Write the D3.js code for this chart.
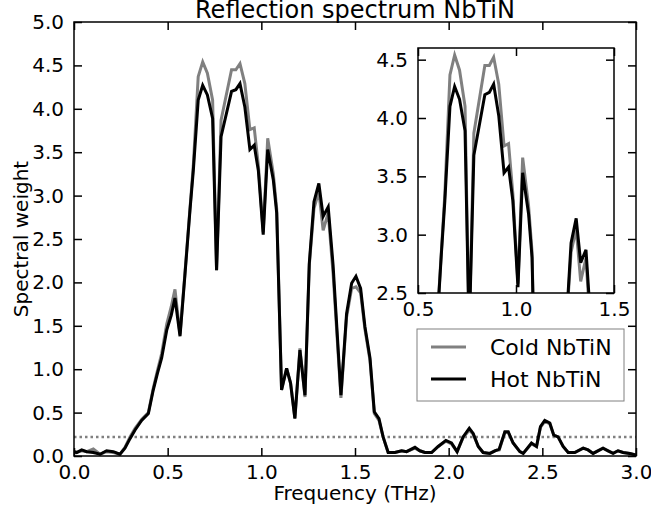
<!DOCTYPE html>
<html>
<head>
<meta charset="utf-8">
<script src="https://d3js.org/d3.v7.min.js"></script>
<style>
  body { margin: 0; background: #fff; }
  text { font-family: "DejaVu Sans", sans-serif; fill: #000; }
</style>
</head>
<body>
<div class="chart"></div>
<script>
// values
var freq = [0.000, 0.014, 0.041, 0.068, 0.103, 0.139, 0.174, 0.210, 0.245, 0.272,
  0.299, 0.326, 0.361, 0.397, 0.423, 0.445, 0.468, 0.495, 0.519, 0.539,
  0.566, 0.592, 0.619, 0.637, 0.663, 0.687, 0.712, 0.740, 0.761, 0.785,
  0.841, 0.864, 0.886, 0.912, 0.939, 0.962, 0.984, 1.010, 1.034, 1.064,
  1.082, 1.108, 1.135, 1.156, 1.179, 1.206, 1.233, 1.256, 1.281, 1.307,
  1.330, 1.357, 1.383, 1.425, 1.455, 1.482, 1.505, 1.530, 1.553, 1.580,
  1.603, 1.628, 1.650, 1.677, 1.713, 1.749, 1.775, 1.820, 1.846, 1.873,
  1.909, 1.944, 1.985, 2.015, 2.045, 2.077, 2.110, 2.131, 2.158, 2.184,
  2.220, 2.247, 2.270, 2.300, 2.318, 2.344, 2.380, 2.398, 2.442, 2.469,
  2.490, 2.513, 2.540, 2.561, 2.584, 2.611, 2.638, 2.673, 2.718, 2.744,
  2.771, 2.824, 2.851, 2.878, 2.904, 2.931, 2.967, 3.000];

var hot = [0.05, 0.04, 0.07, 0.05, 0.04, 0.02, 0.06, 0.05, 0.02, 0.09,
  0.20, 0.30, 0.41, 0.49, 0.76, 0.95, 1.13, 1.45, 1.62, 1.82,
  1.38, 2.08, 2.83, 3.29, 4.10, 4.27, 4.16, 3.89, 2.14, 3.68,
  4.20, 4.22, 4.29, 4.02, 3.53, 3.58, 3.29, 2.55, 3.53, 3.18,
  2.80, 0.76, 1.01, 0.84, 0.43, 1.22, 0.70, 2.22, 2.93, 3.14,
  2.76, 2.87, 2.20, 0.70, 1.64, 1.99, 2.07, 1.93, 1.49, 1.13,
  0.51, 0.43, 0.22, 0.04, 0.04, 0.06, 0.05, 0.10, 0.06, 0.04,
  0.04, 0.11, 0.18, 0.15, 0.05, 0.22, 0.32, 0.26, 0.11, 0.04,
  0.03, 0.06, 0.08, 0.28, 0.28, 0.15, 0.05, 0.03, 0.15, 0.11,
  0.34, 0.41, 0.38, 0.24, 0.22, 0.11, 0.04, 0.04, 0.09, 0.07,
  0.03, 0.09, 0.06, 0.03, 0.06, 0.04, 0.03, 0.01];

var cold = [0.05, 0.04, 0.06, 0.05, 0.08, 0.02, 0.05, 0.04, 0.02, 0.10,
  0.22, 0.32, 0.42, 0.50, 0.78, 0.98, 1.18, 1.52, 1.72, 1.92,
  1.40, 2.10, 2.85, 3.35, 4.37, 4.54, 4.41, 4.10, 2.14, 3.87,
  4.45, 4.45, 4.52, 4.29, 3.76, 3.78, 3.35, 2.58, 3.66, 3.25,
  2.85, 0.76, 1.01, 0.84, 0.44, 1.24, 0.68, 2.20, 2.85, 3.05,
  2.60, 2.80, 2.10, 0.67, 1.60, 1.93, 1.95, 1.88, 1.46, 1.10,
  0.49, 0.41, 0.22, 0.04, 0.04, 0.06, 0.05, 0.09, 0.06, 0.04,
  0.04, 0.11, 0.17, 0.14, 0.05, 0.21, 0.30, 0.25, 0.11, 0.04,
  0.03, 0.06, 0.07, 0.27, 0.27, 0.15, 0.05, 0.03, 0.14, 0.11,
  0.33, 0.40, 0.37, 0.24, 0.22, 0.11, 0.04, 0.04, 0.09, 0.07,
  0.03, 0.09, 0.06, 0.03, 0.06, 0.04, 0.03, 0.01];

var seriesNames = ["Cold NbTiN", "Hot NbTiN"];
var seriesColors = ["#808080", "#000000"];
var threshold = 0.22;

var xTicks = [0, 0.5, 1.0, 1.5, 2.0, 2.5, 3.0];
var yTicks = [0, 0.5, 1.0, 1.5, 2.0, 2.5, 3.0, 3.5, 4.0, 4.5, 5.0];
var insetXTicks = [0.5, 1.0, 1.5];
var insetYTicks = [2.5, 3.0, 3.5, 4.0, 4.5];

var W = 651, H = 512;
var margin = {top: 22, right: 15, bottom: 56, left: 74},
  width = W - margin.left - margin.right,
  height = H - margin.top - margin.bottom;

var svg = d3.select(".chart").append("svg")
  .attr("width", W)
  .attr("height", H);

var g = svg.append("g")
  .attr("transform", "translate(" + margin.left + "," + margin.top + ")");

var xScale = d3.scaleLinear().domain([0, 3]).range([0, width]);
var yScale = d3.scaleLinear().domain([0, 5]).range([height, 0]);

var series = [cold, hot];

function drawFrame(sel, xs, ys, xt, yt, w, h, tickFont) {
  var fmt = d3.format(".1f");
  // bottom / left with labels, ticks pointing in
  sel.append("g").attr("transform", "translate(0," + h + ")")
    .call(d3.axisBottom(xs).tickValues(xt).tickFormat(fmt).tickSizeInner(-8).tickSizeOuter(0).tickPadding(9));
  sel.append("g")
    .call(d3.axisLeft(ys).tickValues(yt).tickFormat(fmt).tickSizeInner(-8).tickSizeOuter(0).tickPadding(10));
  sel.append("g")
    .call(d3.axisTop(xs).tickValues(xt).tickFormat("").tickSizeInner(-8).tickSizeOuter(0));
  sel.append("g").attr("transform", "translate(" + w + ",0)")
    .call(d3.axisRight(ys).tickValues(yt).tickFormat("").tickSizeInner(-8).tickSizeOuter(0));
  sel.selectAll(".domain").remove();
  sel.selectAll(".tick line").attr("stroke", "#000").attr("stroke-width", 1.5);
  sel.selectAll(".tick text").style("font-size", tickFont + "px").attr("fill", "#000")
    .style("font-family", "DejaVu Sans");
  sel.append("rect")
    .attr("width", w).attr("height", h)
    .attr("fill", "none").attr("stroke", "#000").attr("stroke-width", 1.5);
}

// main clip
svg.append("defs").append("clipPath").attr("id", "clipMain")
  .append("rect").attr("width", width).attr("height", height);

var line = d3.line()
  .x(function(d, i) { return xScale(freq[i]); })
  .y(function(d) { return yScale(d); });

var plot = g.append("g").attr("clip-path", "url(#clipMain)");

plot.append("line")
  .attr("x1", xScale(0)).attr("x2", xScale(3))
  .attr("y1", yScale(threshold)).attr("y2", yScale(threshold))
  .attr("stroke", "#808080").attr("stroke-width", 2.5)
  .attr("stroke-dasharray", "2.5,3");

series.forEach(function(s, k) {
  plot.append("path")
    .datum(s)
    .attr("d", line)
    .attr("fill", "none")
    .attr("stroke", seriesColors[k])
    .attr("stroke-width", 3)
    .attr("stroke-linejoin", "miter");
});

drawFrame(g, xScale, yScale, xTicks, yTicks, width, height, 20);

// titles
svg.append("text")
  .attr("x", margin.left + width / 2).attr("y", 18)
  .attr("text-anchor", "middle")
  .style("font-size", "24px")
  .text("Reflection spectrum NbTiN");

svg.append("text")
  .attr("x", margin.left + width / 2).attr("y", 500)
  .attr("text-anchor", "middle")
  .style("font-size", "20px")
  .text("Frequency (THz)");

svg.append("text")
  .attr("transform", "translate(28," + (margin.top + height / 2) + ") rotate(-90)")
  .attr("text-anchor", "middle")
  .style("font-size", "20px")
  .text("Spectral weight");

// inset
var inset = {x: 418, y: 48, w: 196, h: 245};
var ix = d3.scaleLinear().domain([0.5, 1.5]).range([0, inset.w]);
var iy = d3.scaleLinear().domain([2.5, 4.6]).range([inset.h, 0]);

var ig = svg.append("g").attr("transform", "translate(" + inset.x + "," + inset.y + ")");
ig.append("rect").attr("width", inset.w).attr("height", inset.h).attr("fill", "#fff");

svg.select("defs").append("clipPath").attr("id", "clipInset")
  .append("rect").attr("width", inset.w).attr("height", inset.h);

var iline = d3.line()
  .x(function(d, i) { return ix(freq[i]); })
  .y(function(d) { return iy(d); });

var iplot = ig.append("g").attr("clip-path", "url(#clipInset)");
series.forEach(function(s, k) {
  iplot.append("path")
    .datum(s)
    .attr("d", iline)
    .attr("fill", "none")
    .attr("stroke", seriesColors[k])
    .attr("stroke-width", 3);
});

drawFrame(ig, ix, iy, insetXTicks, insetYTicks, inset.w, inset.h, 20);

// legend
var lg = svg.append("g").attr("transform", "translate(417,329)");
lg.append("rect").attr("width", 207).attr("height", 72)
  .attr("fill", "#fff").attr("stroke", "#808080").attr("stroke-width", 1);

seriesNames.forEach(function(name, k) {
  var yy = 18 + k * 32;
  lg.append("line")
    .attr("x1", 14).attr("x2", 49)
    .attr("y1", yy).attr("y2", yy)
    .attr("stroke", seriesColors[k]).attr("stroke-width", 3);
  lg.append("text")
    .attr("x", 73).attr("y", yy + 8)
    .style("font-size", "22px")
    .text(name);
});
</script>
</body>
</html>
